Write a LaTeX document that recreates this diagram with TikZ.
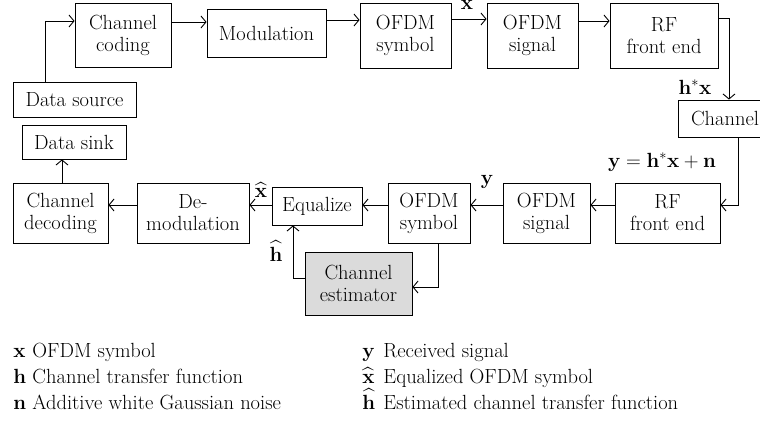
\RequirePackage{fix-cm}
\documentclass[tikz,border=0pt]{standalone}
\usepackage{amsmath}
\usetikzlibrary{arrows.meta}

\begin{document}
\begin{tikzpicture}[x=1pt, y=-1pt, line width=0.9pt, >={Straight Barb[length=5pt, width=12pt]},
    blk/.style={draw, align=center, inner sep=0pt, font=\fontsize{20.5}{22}\selectfont},
    lbl/.style={inner sep=0pt, font=\fontsize{20.5}{22}\selectfont}]
    \useasboundingbox (0,0) rectangle (760,423);

    \node [blk, minimum width=96pt, minimum height=64pt] (ccode) at (123,35) {Channel\\coding};
    \node [blk, minimum width=119pt, minimum height=48pt] (modul) at (266.5,33) {Modulation};
    \node [blk, minimum width=91pt, minimum height=65pt] (osym1) at (405.5,35.5) {OFDM\\symbol};
    \node [blk, minimum width=91pt, minimum height=65pt] (osig1) at (532.5,35.5) {OFDM\\signal};
    \node [blk, minimum width=108pt, minimum height=65pt] (rf1) at (664,35.5) {RF\\front end};
    \node [blk, minimum width=94pt, minimum height=37pt] (chan) at (725,118.5) {Channel};
    \node [blk, minimum width=123pt, minimum height=35pt] (dsrc) at (74.5,99.5) {Data source};
    \node [blk, minimum width=104pt, minimum height=34pt] (dsink) at (74,142) {Data sink};
    \node [blk, minimum width=95pt, minimum height=60pt] (cdec) at (60.5,213) {Channel\\decoding};
    \node [blk, minimum width=112pt, minimum height=60pt] (demod) at (193,213) {De-\\modulation};
    \node [blk, minimum width=90pt, minimum height=38pt] (equal) at (317,206) {Equalize};
    \node [blk, minimum width=82pt, minimum height=60pt] (osym2) at (429,213) {OFDM\\symbol};
    \node [blk, minimum width=87pt, minimum height=60pt] (osig2) at (546.5,213) {OFDM\\signal};
    \node [blk, minimum width=105pt, minimum height=60pt] (rf2) at (667.5,213) {RF\\front end};
    \node [blk, minimum width=107pt, minimum height=63pt, fill=black!14] (chest) at (358.5,283.5) {Channel\\estimator};

    \node [lbl] (xlab) at (467,5) {$\mathbf{x}$};
    \node [lbl] (hxlab) at (695,87) {$\mathbf{h}^{*}\mathbf{x}$};
    \node [lbl] (yeq) at (662,162) {$\mathbf{y}=\mathbf{h}^{*}\mathbf{x}+\mathbf{n}$};
    \node [lbl] (ylab) at (487,182) {$\mathbf{y}$};
    \node [lbl] (xhat) at (261,190) {$\widehat{\mathbf{x}}$};
    \node [lbl] (hhat) at (276,251) {$\widehat{\mathbf{h}}$};

    \draw [->] (dsrc.north -| 45,0) |- (ccode.west |- 0,21);
    \draw [->] (ccode.east |- 0,22) -- (modul.west |- 0,22);
    \draw [->] (modul.east |- 0,20) -- (osym1.west |- 0,20);
    \draw [->] (osym1.east |- 0,19) -- (osig1.west |- 0,19);
    \draw [->] (osig1.east |- 0,21) -- (rf1.west |- 0,21);
    \draw [->] (rf1.east |- 0,18) -| (chan.north -| 729,0);
    \draw [->] (chan.south -| 738,0) |- (rf2.east |- 0,205);
    \draw [->] (rf2.west |- 0,205) -- (osig2.east |- 0,205);
    \draw [->] (osig2.west |- 0,205) -- (osym2.east |- 0,205);
    \draw [->] (osym2.west |- 0,205) -- (equal.east |- 0,205);
    \draw [->] (equal.west |- 0,205) -- (demod.east |- 0,205);
    \draw [->] (demod.west |- 0,205) -- (cdec.east |- 0,205);
    \draw [->] (cdec.north -| 62,0) -- (dsink.south -| 62,0);
    \draw [->] (osym2.south -| 438,0) |- (chest.east |- 0,287);
    \draw [->] (chest.west |- 0,278) -| (equal.south -| 293,0);

    \node [lbl, anchor=base west] (kx) at (13,357) {$\mathbf{x}$};
    \node [lbl, anchor=base west] (kxt) at (32,357) {OFDM symbol};
    \node [lbl, anchor=base west] (kh) at (13,383) {$\mathbf{h}$};
    \node [lbl, anchor=base west] (kht) at (32,383) {Channel transfer function};
    \node [lbl, anchor=base west] (kn) at (13,409) {$\mathbf{n}$};
    \node [lbl, anchor=base west] (knt) at (32,409) {Additive white Gaussian noise};
    \node [lbl, anchor=base west] (ky) at (362,357) {$\mathbf{y}$};
    \node [lbl, anchor=base west] (kyt) at (383,357) {Received signal};
    \node [lbl, anchor=base west] (kxh) at (362,383) {$\widehat{\mathbf{x}}$};
    \node [lbl, anchor=base west] (kxht) at (383,383) {Equalized OFDM symbol};
    \node [lbl, anchor=base west] (khh) at (362,409) {$\widehat{\mathbf{h}}$};
    \node [lbl, anchor=base west] (khht) at (383,409) {Estimated channel transfer function};
\end{tikzpicture}
\end{document}
